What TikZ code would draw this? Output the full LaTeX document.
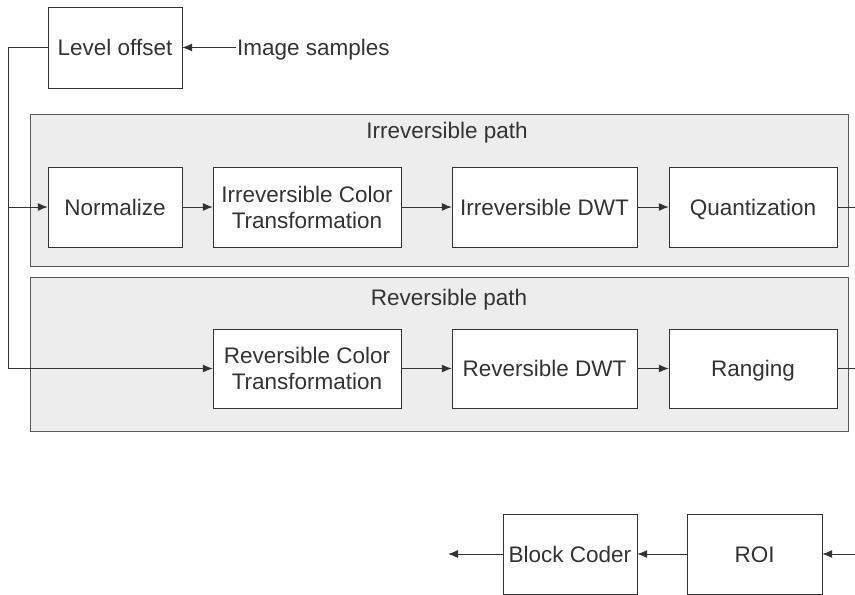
\documentclass[tikz,border=0pt]{standalone}
\usepackage{fontspec}
\setmainfont{Liberation Sans}
\usetikzlibrary{arrows.meta}
\definecolor{inkgray}{HTML}{333333}
\definecolor{panelfill}{HTML}{EDEDED}
\tikzset{
  blockbox/.style={draw=inkgray, fill=white, inner sep=0pt, align=center, text=inkgray,
    font=\fontsize{22.5}{26}\selectfont},
  oneline/.style={text height=16pt, text depth=0pt},
  panelbox/.style={draw=gray!70!black, fill=panelfill, inner sep=0pt,
    minimum width=818pt},
  caption/.style={text=inkgray, inner sep=1pt, oneline, font=\fontsize{22.5}{26}\selectfont},
  wire/.style={draw=inkgray, line width=1pt},
  flow/.style={wire, -{Latex[length=10pt,width=8pt]}},
}
\begin{document}
\begin{tikzpicture}[x=1pt, y=-1pt]
    \useasboundingbox (0,0) rectangle (855,595);
    % panels
    \node[panelbox, minimum height=152pt] (irrpanel) at (439,190) {};
    \node[panelbox, minimum height=154pt] (revpanel) at (439,354) {};
    \node[caption] (irrlabel) at (447,130) {Irreversible path};
    \node[caption] (revlabel) at (449,297) {Reversible path};
    % blocks
    \node[blockbox, oneline, minimum width=134pt, minimum height=81pt] (lvl) at (115,47.5) {Level offset};
    \node[caption, anchor=west] (samples) at (236,47.5) {Image samples};
    \node[blockbox, oneline, minimum width=134pt, minimum height=80pt] (norm) at (115,207) {Normalize};
    \node[blockbox, minimum width=188pt, minimum height=80pt] (ict) at (307,207) {Irreversible Color\\Transformation};
    \node[blockbox, oneline, minimum width=185pt, minimum height=80pt] (idwt) at (544.5,207) {Irreversible DWT};
    \node[blockbox, oneline, minimum width=168pt, minimum height=80pt] (quant) at (753,207) {Quantization};
    \node[blockbox, minimum width=188pt, minimum height=79pt] (rct) at (307,368.5) {Reversible Color\\Transformation};
    \node[blockbox, oneline, minimum width=185pt, minimum height=79pt] (rdwt) at (544.5,368.5) {Reversible DWT};
    \node[blockbox, oneline, minimum width=168pt, minimum height=79pt] (rang) at (753,368.5) {Ranging};
    \node[blockbox, oneline, minimum width=134pt, minimum height=80pt] (coder) at (570,554) {Block Coder};
    \node[blockbox, oneline, minimum width=135pt, minimum height=80pt] (roi) at (754.5,554) {ROI};
    % free ends
    \coordinate (bend) at (8,47.5);
    \coordinate (split) at (8,207);
    \coordinate (foot) at (8,368.5);
    \coordinate (irrout) at (855,207);
    \coordinate (revout) at (855,368.5);
    \coordinate (roiin) at (855,554);
    \coordinate (codeout) at (448,554);
    % connectors
    \draw[flow] (samples.west) -- (lvl.east);
    \draw[wire] (lvl.west) -- (bend) -- (foot);
    \draw[flow] (split) -- (norm.west);
    \draw[flow] (foot) -- (rct.west);
    \draw[flow] (norm) -- (ict);
    \draw[flow] (ict) -- (idwt);
    \draw[flow] (idwt) -- (quant);
    \draw[wire] (quant.east) -- (irrout);
    \draw[flow] (rct) -- (rdwt);
    \draw[flow] (rdwt) -- (rang);
    \draw[wire] (rang.east) -- (revout);
    \draw[flow] (roiin) -- (roi.east);
    \draw[flow] (roi) -- (coder);
    \draw[flow] (coder.west) -- (codeout);
\end{tikzpicture}
\end{document}
